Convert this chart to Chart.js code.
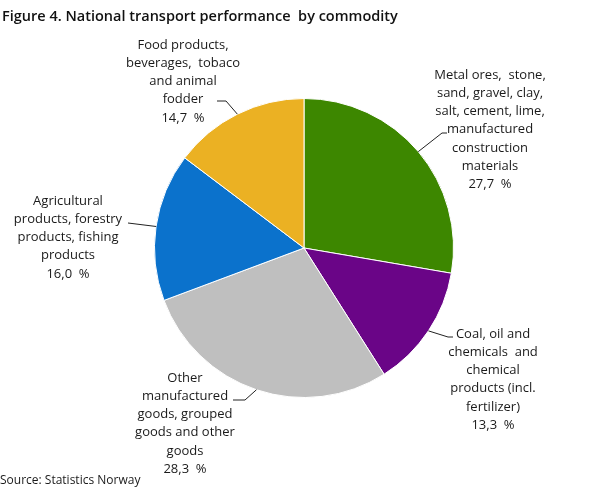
<!DOCTYPE html>
<html>
<head>
<meta charset="utf-8">
<script src="https://cdn.jsdelivr.net/npm/chart.js@4/dist/chart.umd.min.js"></script>
<style>
html,body{margin:0;padding:0;background:#fff;}
#wrap{position:relative;width:608px;height:489px;}
</style>
</head>
<body>
<div id="wrap"><canvas id="c" width="608" height="489"></canvas></div>
<script>
const title = "Figure 4. National transport performance  by commodity";
const source = "Source: Statistics Norway";
const categories = [
  ["Metal ores,  stone,", "sand, gravel, clay,", "salt, cement, lime,", "manufactured", "construction", "materials"],
  ["Coal, oil and", "chemicals  and", "chemical", "products (incl.", "fertilizer)"],
  ["Other", "manufactured", "goods, grouped", "goods and other", "goods"],
  ["Agricultural", "products, forestry", "products, fishing", "products"],
  ["Food products,", "beverages,  tobaco", "and animal", "fodder"]
];
const values = [27.7, 13.3, 28.3, 16.0, 14.7];
const colors = ["#3d8700", "#6a0587", "#bfbfbf", "#0b72cc", "#ebb123"];

// label layout: centre x of text block, y of first line, elbow point, line end
const labelLayout = [
  {cx: 490, y0: 75, elbow: [442, 133], end: [447, 133]},
  {cx: 493, y0: 334, elbow: [448, 337], end: [453, 337]},
  {cx: 185, y0: 378, elbow: [245, 400], end: [233, 400]},
  {cx: 68,  y0: 201, elbow: [128, 223], end: [128, 223]},
  {cx: 183, y0: 45,  elbow: [226, 101], end: [217, 101]}
];
const lineH = 18.2;

const fmt = v => v.toFixed(1).replace('.', ',') + "  %";

const labelPlugin = {
  id: 'labels',
  afterDraw(chart) {
    const ctx = chart.ctx;
    const meta = chart.getDatasetMeta(0);
    ctx.save();
    // title
    ctx.fillStyle = "#111";
    ctx.font = "600 14.5px 'Open Sans'";
    ctx.textAlign = "left";
    ctx.textBaseline = "middle";
    ctx.fillText(title, 2, 17);
    // source
    ctx.font = "12px 'Open Sans'";
    ctx.fillStyle = "#1a1a1a";
    ctx.fillText(source, 0, 481);
    // labels
    ctx.font = "13px 'Open Sans'";
    ctx.textAlign = "center";
    meta.data.forEach((arc, i) => {
      const L = labelLayout[i];
      const mid = (arc.startAngle + arc.endAngle) / 2;
      const sx = arc.x + Math.cos(mid) * arc.outerRadius;
      const sy = arc.y + Math.sin(mid) * arc.outerRadius;
      ctx.strokeStyle = "#222";
      ctx.lineWidth = 1;
      ctx.beginPath();
      ctx.moveTo(sx, sy);
      ctx.lineTo(L.elbow[0], L.elbow[1]);
      ctx.lineTo(L.end[0], L.end[1]);
      ctx.stroke();
      const lines = categories[i].concat([fmt(values[i])]);
      ctx.fillStyle = "#1a1a1a";
      lines.forEach((t, k) => ctx.fillText(t, L.cx, L.y0 + k * lineH));
    });
    ctx.restore();
  }
};

new Chart(document.getElementById('c'), {
  type: 'pie',
  data: {
    labels: categories.map(c => c.join(' ')),
    datasets: [{
      data: values,
      backgroundColor: colors,
      borderColor: "#ffffff",
      borderWidth: 1
    }]
  },
  options: {
    responsive: false,
    animation: false,
    layout: {padding: {left: 154, right: 154, top: 98, bottom: 91}},
    plugins: {legend: {display: false}, tooltip: {enabled: false}, title: {display: false}}
  },
  plugins: [labelPlugin]
});
</script>
</body>
</html>
